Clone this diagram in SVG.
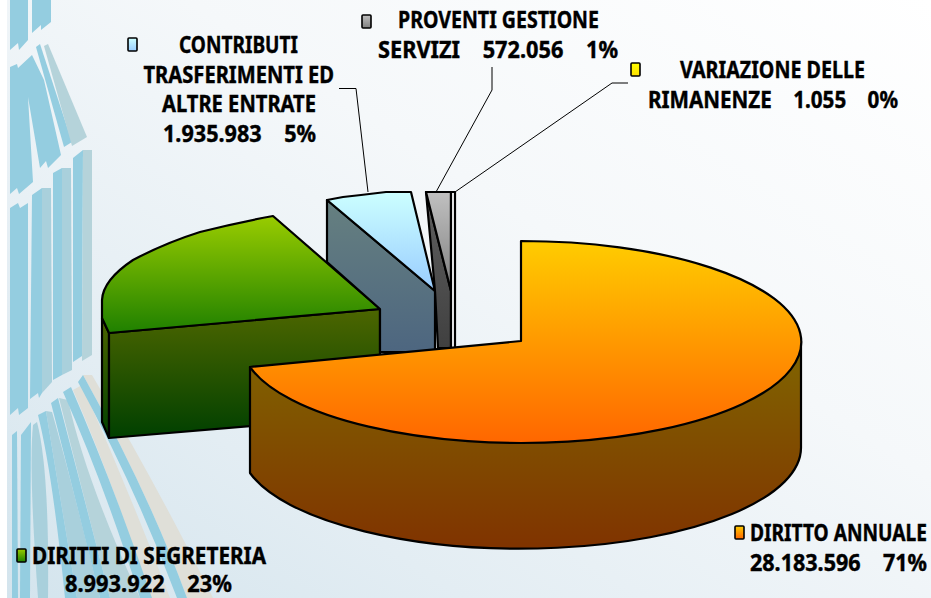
<svg xmlns="http://www.w3.org/2000/svg" width="931" height="598" viewBox="0 0 931 598">
<defs>
<linearGradient id="bg" x1="1" y1="0" x2="0" y2="1"><stop offset="0" stop-color="#ffffff"/><stop offset="0.4" stop-color="#f5f8fa"/><stop offset="0.75" stop-color="#e3edf3"/><stop offset="1" stop-color="#d3e4ed"/></linearGradient>
<linearGradient id="oTop" x1="0" y1="0" x2="0" y2="1"><stop offset="0" stop-color="#ffcc00"/><stop offset="1" stop-color="#ff6600"/></linearGradient>
<linearGradient id="oSide" x1="0" y1="0" x2="0" y2="1"><stop offset="0" stop-color="#806600"/><stop offset="1" stop-color="#803300"/></linearGradient>
<linearGradient id="gTop" x1="0" y1="0" x2="0" y2="1"><stop offset="0" stop-color="#99cc00"/><stop offset="1" stop-color="#1f8000"/></linearGradient>
<linearGradient id="gSide" x1="0" y1="0" x2="0" y2="1"><stop offset="0" stop-color="#4d6600"/><stop offset="1" stop-color="#004000"/></linearGradient>
<linearGradient id="bTop" x1="0" y1="0" x2="0" y2="1"><stop offset="0" stop-color="#ccffff"/><stop offset="1" stop-color="#99ccff"/></linearGradient>
<linearGradient id="bSide" x1="0" y1="0" x2="0" y2="1"><stop offset="0" stop-color="#668080"/><stop offset="1" stop-color="#4d6680"/></linearGradient>
<linearGradient id="kTop" x1="0" y1="0" x2="0" y2="1"><stop offset="0" stop-color="#c0c0c0"/><stop offset="1" stop-color="#808080"/></linearGradient>
<linearGradient id="kSide" x1="0" y1="0" x2="0" y2="1"><stop offset="0" stop-color="#606060"/><stop offset="1" stop-color="#404040"/></linearGradient>
<linearGradient id="yTop" x1="0" y1="0" x2="0" y2="1"><stop offset="0" stop-color="#ffff00"/><stop offset="1" stop-color="#ffe000"/></linearGradient>
</defs>
<style>
text{font-family:"Noto Sans","DejaVu Sans","Liberation Sans",sans-serif;font-weight:700;font-size:20px;fill:#000;stroke:#000;stroke-width:.35;white-space:pre}
text.n{font-size:18.500px}
.s{stroke:#000;stroke-width:2.2;stroke-linejoin:round}
.l{fill:none;stroke:#000;stroke-width:1}
.k{stroke:#000;stroke-width:1.6}
.a{fill:#94cde0}.b{fill:#a9d0dc}.c{fill:#b5d3da}.d{fill:#dfdfd8}
</style>
<rect id="background" width="931" height="598" fill="url(#bg)"/>
<rect width="7" height="598" fill="#fff"/>
<g id="stripes">
<polygon class="a" points="10,0 28,0 28,40 19,50 18,43 10,50"/>
<polygon class="a" points="32,0 51,0 51,22 41,30 41,25 32,33"/>
<polygon class="a" points="10,67 17,64 18,68 32,55 44,80 61,155 48,168 46,161 40,168 28,97 33,182 19,194 17,188 10,194"/>
<polygon class="a" points="36,47 40,44 72,142 64,147"/>
<polygon class="c" points="44,46 48,44 87,137 72,146"/>
<polygon class="a" points="10,208 18,203 20,208 28,203 28,408 19,415 18,408 10,415"/>
<polygon class="a" points="32,195 42,188 42,393 39,398 38,393 30,399"/>
<polygon class="b" points="42,188 51,188 52,382 42,393"/>
<polygon class="a" points="53,173 62,168 62,375 53,380"/>
<polygon class="b" points="62,168 71,168 72,370 62,375"/>
<polygon class="a" points="73,158 83,150 82,356 73,362"/>
<polygon class="c" points="83,150 92,150 92,355 82,361"/>
<path class="a" d="M12,435 L17,431 L18,598 L12,598Z"/>
<path class="a" d="M21,435 L31,422 L30,598 L20,598Z"/>
<path class="b" d="M33,425 L37,422 Q49.500,470 48,598 L38,598 Q28.500,468.500 33,425Z"/>
<path class="b" d="M46,411 L52,412 Q70,475 100,598 L77,598 Q56.500,475.500 46,411Z"/>
<path class="a" d="M38,415 L46,411 Q56.500,475.500 77,598 L65,598 Q52.500,473.500 38,415Z"/>
<path class="c" d="M59,398 L68,400 Q86,481 140,598 L110,598 Q80,482 59,398Z"/>
<path class="a" d="M51,403 L58,398 Q80,482 110,598 L100,598 Q70.500,479.500 51,403Z"/>
<path class="d" d="M73,390 L82,385 Q128,488.500 170,598 L150,598 Q114.500,486 73,390Z"/>
<path class="a" d="M63,392 L71,387 Q114.500,487.500 152,598 L140,598 Q104.500,485 63,392Z"/>
<path class="d" d="M83,375 L92,375 Q161.500,493.500 213,598 L187,598 Q149,493.500 83,375Z"/>
<path class="a" d="M78,382 L83,375 Q149,493.500 187,598 L177,598 Q136.500,490 78,382Z"/>
</g>
<g id="connectors">
<polyline class="l" points="339,88.500 356,88.500 368,192"/>
<polyline class="l" points="492,67 492,90 436,192"/>
<polyline class="l" points="628,83 612,83 455,192"/>
</g>
<g id="slice-diritti-segreteria">
<polygon class="s" fill="url(#gSide)" points="102,318 109,333 109,438 102,422"/>
<polygon class="s" fill="url(#gSide)" points="109,333 380,309 380,415 109,438"/>
<path class="s" fill="url(#gTop)" d="M380,309 L273,216 Q235,223 200,232 Q165,243 133,260 Q103,280 102,300 L102,318 L109,333 Z"/>
</g>
<g id="slice-contributi">
<polygon class="s" fill="url(#bSide)" points="327,200 435,291 435,352 380,352 380,309 327,262"/>
<path class="s" fill="url(#bTop)" d="M327,200 L343,197 L361,195 L386,192 L411,192 L435,291 Z"/>
</g>
<g id="slice-proventi">
<polygon class="s" fill="url(#kSide)" points="426,192 451,291 451,348 438,348 435,291"/>
<polygon class="s" fill="url(#kTop)" points="426,192 451,192 451,291"/>
</g>
<g id="slice-variazione">
<polygon class="s" fill="#fbfcfd" points="451,192 455,192 455,348 451,348"/>
</g>
<g id="slice-diritto-annuale">
<path class="s" fill="url(#oSide)" d="M250,367 L250,473 A280,101 0 0 0 801,447 L801,341 Z"/>
<path class="s" fill="url(#oTop)" d="M521,341 L521,241 A280,101 0 1 1 250,367 Z"/>
</g>
<g id="legend-contributi">
<rect class="k" x="128" y="38" width="9" height="13" rx="1" fill="url(#bTop)"/>
<text transform="translate(179 53) scale(1 1.15)" textLength="119" lengthAdjust="spacingAndGlyphs">CONTRIBUTI</text>
<text transform="translate(143.500 83) scale(1 1.15)" textLength="190.500" lengthAdjust="spacingAndGlyphs">TRASFERIMENTI ED</text>
<text transform="translate(162 112) scale(1 1.15)" textLength="154" lengthAdjust="spacingAndGlyphs">ALTRE ENTRATE</text>
<text transform="translate(163 142) scale(1 1.15)" textLength="153" lengthAdjust="spacingAndGlyphs" xml:space="preserve">1.935.983    5%</text>
</g>
<g id="legend-proventi">
<rect class="k" x="362" y="15" width="9" height="13" rx="1" fill="url(#kTop)"/>
<text transform="translate(398 28) scale(1 1.15)" textLength="201" lengthAdjust="spacingAndGlyphs">PROVENTI GESTIONE</text>
<text transform="translate(378 58) scale(1 1.15)" textLength="240" lengthAdjust="spacingAndGlyphs" xml:space="preserve">SERVIZI    572.056    1%</text>
</g>
<g id="legend-variazione">
<rect class="k" x="631" y="63" width="9" height="13" rx="1" fill="url(#yTop)"/>
<text transform="translate(680 78) scale(1 1.15)" textLength="185" lengthAdjust="spacingAndGlyphs">VARIAZIONE DELLE</text>
<text transform="translate(648 108) scale(1 1.15)" textLength="250" lengthAdjust="spacingAndGlyphs" xml:space="preserve">RIMANENZE    1.055    0%</text>
</g>
<g id="legend-diritto-annuale">
<rect class="k" x="735" y="526" width="9" height="13" rx="1" fill="url(#oTop)"/>
<text class="n" transform="translate(750 541) scale(1 1.24)" textLength="177" lengthAdjust="spacingAndGlyphs">DIRITTO ANNUALE</text>
<text class="n" transform="translate(750 571) scale(1 1.24)" textLength="177" lengthAdjust="spacingAndGlyphs" xml:space="preserve">28.183.596    71%</text>
</g>
<g id="legend-diritti-segreteria">
<rect class="k" x="17" y="549" width="9" height="13" rx="1" fill="url(#gTop)"/>
<text transform="translate(32 564) scale(1 1.15)" textLength="234" lengthAdjust="spacingAndGlyphs">DIRITTI DI SEGRETERIA</text>
<text transform="translate(65 592) scale(1 1.15)" textLength="167" lengthAdjust="spacingAndGlyphs" xml:space="preserve">8.993.922    23%</text>
</g>
</svg>
